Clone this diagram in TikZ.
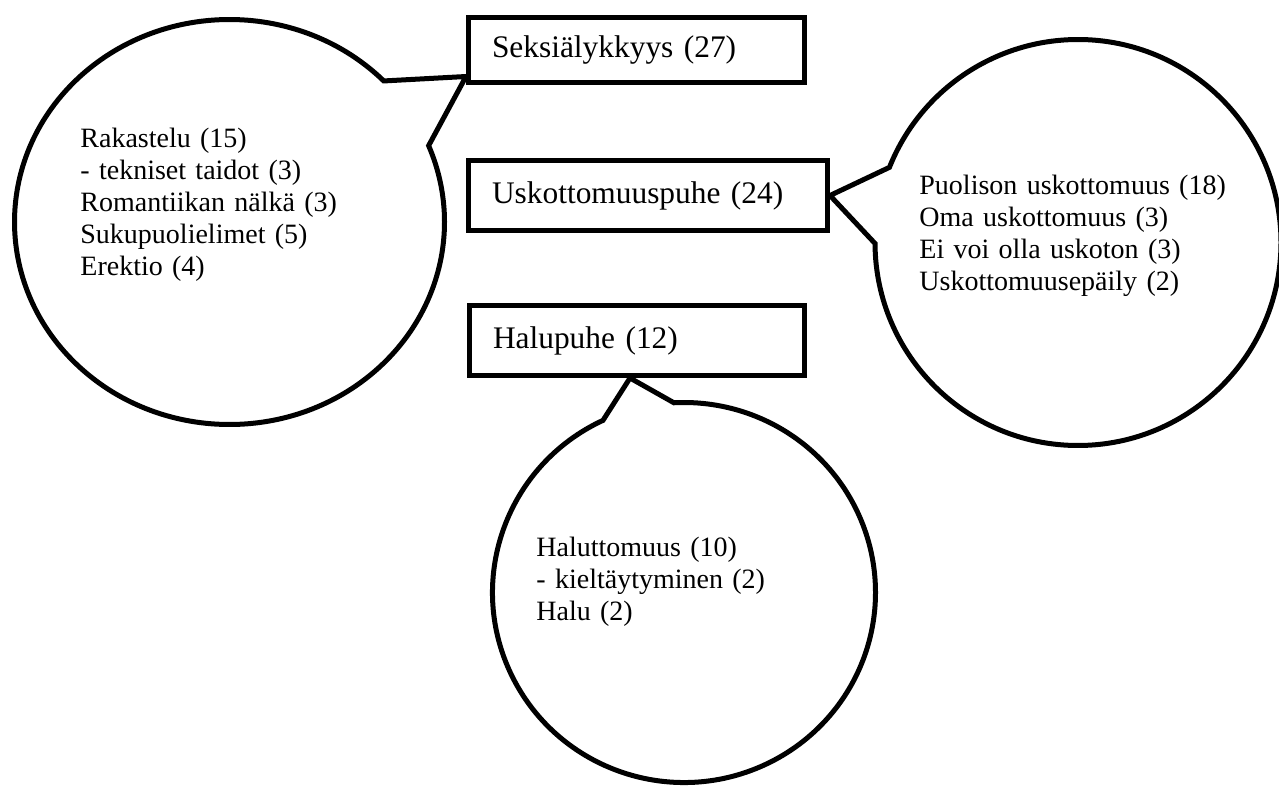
\documentclass[tikz,border=0pt]{standalone}
\usepackage{fontspec}
\setmainfont{Liberation Serif}
\usetikzlibrary{shapes.callouts,backgrounds}

\begin{document}
\begin{tikzpicture}[x=0.5pt,y=-0.5pt,
            catbox/.style={draw,line width=2.5pt,fill=white,inner xsep=11.75pt,inner ysep=0pt,align=left,
              font=\fontsize{15.7}{18}\selectfont},
            bubble/.style={draw,line width=2.5pt,fill=white,ellipse callout,inner sep=0pt,callout pointer arc=22},
            list/.style={inner sep=0pt,anchor=base west,align=left,font=\fontsize{14}{16}\selectfont}]
            \useasboundingbox (0,0) rectangle (1279,787);
            \node[catbox,text width=144.5pt,minimum height=32.5pt] (seksi) at (636.5,50) {Seksiälykkyys (27)};
            \node[catbox,text width=156pt,minimum height=35pt] (usko) at (648,195.5) {Uskottomuuspuhe (24)};
            \node[catbox,text width=144pt,minimum height=35pt] (halu) at (637,340.5) {Halupuhe (12)};
            \begin{pgfonlayer}{background}
              \node[bubble,minimum width=215pt,minimum height=202.5pt,
                callout absolute pointer={([yshift=4.25pt]seksi.south west)}] (rakastelu) at (229.5,222) {};
              \node[bubble,minimum width=203pt,minimum height=203pt,
                callout absolute pointer={(usko.east)}] (uskottomuus) at (1078,242.5) {};
              \node[bubble,minimum width=191.5pt,minimum height=190pt,
                callout absolute pointer={([xshift=-3.5pt]halu.south)}] (haluttomuus) at (684,592.5) {};
            \end{pgfonlayer}
            \node[list,text width=140pt] (rakas) at (80,147.5) {Rakastelu (15)\\- tekniset taidot (3)\\Romantiikan nälkä (3)\\Sukupuolielimet (5)\\Erektio (4)};
            \node[list,text width=165pt] (puoliso) at (919,194) {Puolison uskottomuus (18)\\Oma uskottomuus (3)\\Ei voi olla uskoton (3)\\Uskottomuusepäily (2)};
            \node[list,text width=125pt] (halut) at (536,556) {Haluttomuus (10)\\- kieltäytyminen (2)\\Halu (2)};
          \end{tikzpicture}
\end{document}
